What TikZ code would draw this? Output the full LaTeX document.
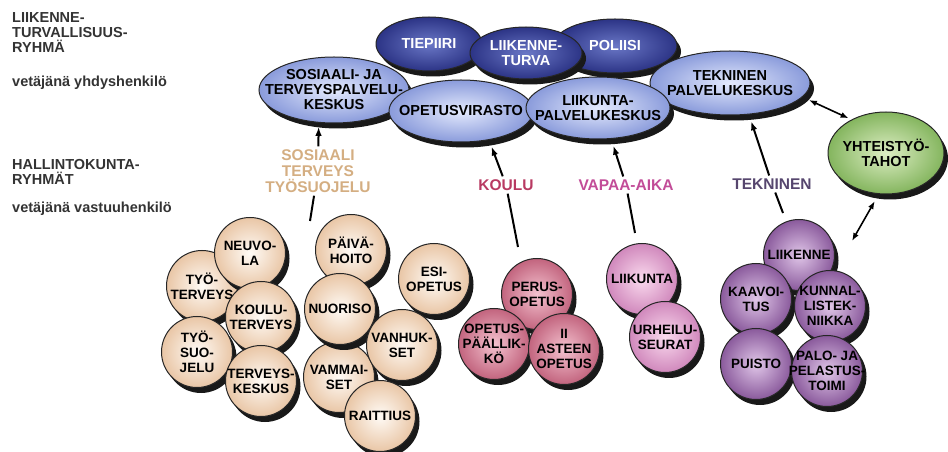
\documentclass[tikz,border=0pt]{standalone}
\usepackage{fontspec}
\setmainfont{Liberation Sans}
\usetikzlibrary{arrows.meta,shapes.geometric}

\definecolor{tummasin}{HTML}{2C3486}
\definecolor{tummasinv}{HTML}{6A77C6}
\definecolor{vaaleasin}{HTML}{8A9BDB}
\definecolor{vaaleasinv}{HTML}{E4EAFD}
\definecolor{vihrea}{HTML}{84B55E}
\definecolor{vihreav}{HTML}{DDEEC4}
\definecolor{beige}{HTML}{E9C6A6}
\definecolor{beigev}{HTML}{FFFBF6}
\definecolor{puna}{HTML}{C2647E}
\definecolor{punav}{HTML}{F4C2CF}
\definecolor{roosa}{HTML}{D088BC}
\definecolor{roosav}{HTML}{FADAEE}
\definecolor{lila}{HTML}{8A5A9C}
\definecolor{lilav}{HTML}{E0C6E8}
\definecolor{harmaa}{HTML}{333333}
\definecolor{ruskea}{HTML}{D4AE82}
\definecolor{koulupuna}{HTML}{B83A62}
\definecolor{vapaaroosa}{HTML}{C24C98}
\definecolor{tekliila}{HTML}{56466E}

\tikzset{
  varjo/.style={preaction={fill=black!90,transform canvas={xshift=4bp,yshift=-5.5bp}}},
  kupla/.style={ellipse,draw=black!85,line width=1bp,varjo},
  pallo/.style={circle,draw=black!85,line width=1bp,minimum size=71bp,varjo},
  teksti/.style={align=center,inner sep=0pt,font=\bfseries\fontsize{14.5bp}{15bp}\selectfont},
  ptxt/.style={align=center,inner sep=0pt,font=\bfseries\fontsize{13.5bp}{15bp}\selectfont},
  otsikko/.style={align=left,inner sep=0pt,text=harmaa,font=\bfseries\fontsize{14.5bp}{15bp}\selectfont},
  luokka/.style={align=center,inner sep=3bp,font=\bfseries\fontsize{15.5bp}{16bp}\selectfont},
  nuoli/.style={line width=2bp,-{Latex[length=9bp,width=6.5bp]}},
  viiva/.style={line width=2bp},
  kaksi/.style={line width=1.6bp,{Latex[length=8bp,width=6bp]}-{Latex[length=8bp,width=6bp]}}
}

\begin{document}
\begin{tikzpicture}[x=1bp,y=-1bp]
\useasboundingbox (0,0) rectangle (948,452);

% vasemman reunan otsikot
\node[otsikko,anchor=north west] (ltr) at (12,12) {LIIKENNE-\\TURVALLISUUS-\\RYHMÄ};
\node[otsikko,anchor=base west] (lveto1) at (12,87) {vetäjänä yhdyshenkilö};
\node[otsikko,anchor=north west] (lhk) at (12,159) {HALLINTOKUNTA-\\RYHMÄT};
\node[otsikko,anchor=base west] (lveto2) at (12,213) {vetäjänä vastuuhenkilö};

% liikenneturvallisuusryhmä
\node[kupla,inner color=tummasinv,outer color=tummasin,minimum width=106bp,minimum height=54bp,
  label={[teksti,text=white]center:TIEPIIRI}] (tiep) at (429,44) {};
\node[kupla,inner color=tummasinv,outer color=tummasin,minimum width=124bp,minimum height=54bp,
  label={[teksti,text=white]center:POLIISI}] (pol) at (615,46) {};
\node[kupla,inner color=tummasinv,outer color=tummasin,minimum width=112bp,minimum height=52bp,
  label={[teksti,text=white]center:LIIKENNE-\\TURVA}] (ltur) at (526,53) {};
\node[kupla,inner color=vaaleasinv,outer color=vaaleasin,minimum width=150bp,minimum height=66bp,
  label={[teksti]center:SOSIAALI- JA\\TERVEYSPALVELU-\\KESKUS}] (sosk) at (334,90) {};
\node[kupla,inner color=vaaleasinv,outer color=vaaleasin,minimum width=160bp,minimum height=64bp,
  label={[teksti]center:TEKNINEN\\PALVELUKESKUS}] (tpk) at (730,83) {};
\node[kupla,inner color=vaaleasinv,outer color=vaaleasin,minimum width=144bp,minimum height=62bp,
  label={[teksti]center:OPETUSVIRASTO}] (opv) at (461,111) {};
\node[kupla,inner color=vaaleasinv,outer color=vaaleasin,minimum width=144bp,minimum height=62bp,
  label={[teksti]center:LIIKUNTA-\\PALVELUKESKUS}] (lpk) at (598,108) {};
\node[kupla,inner color=vihreav,outer color=vihrea,minimum width=116bp,minimum height=82bp,
  label={[teksti]center:YHTEISTYÖ-\\TAHOT}] (yht) at (886,153) {};

% hallintokuntaryhmät
\node[luokka,text=ruskea] (lsos) at (318,171) {SOSIAALI\\TERVEYS\\TYÖSUOJELU};
\node[luokka,text=koulupuna] (lkoul) at (506,185) {KOULU};
\node[luokka,text=vapaaroosa] (lvap) at (626,185) {VAPAA-AIKA};
\node[luokka,text=tekliila] (ltek) at (772,184) {TEKNINEN};

\coordinate (sosloppu) at (310,221);
\coordinate (kouloppu) at (518,247);
\coordinate (vaploppu) at (635,233);
\coordinate (tekloppu) at (783,213);
\coordinate (likloppu) at (852,241);

\draw[nuoli,shorten >=4bp] (lsos) -- (sosk.245);
\draw[nuoli,shorten >=7bp] (lkoul) -- (opv.314);
\draw[nuoli,shorten >=7bp] (lvap) -- (lpk.293);
\draw[nuoli,shorten >=7bp] (ltek) -- (tpk.301);
\draw[viiva] (lsos) -- (sosloppu);
\draw[viiva] (lkoul) -- (kouloppu);
\draw[viiva] (lvap) -- (vaploppu);
\draw[viiva] (ltek) -- (tekloppu);
\draw[kaksi,shorten <=7bp,shorten >=3bp] (tpk.349) -- (yht.136);
\draw[kaksi,shorten <=8bp] (yht.260) -- (likloppu);

% sosiaali ja terveys
\node[pallo,inner color=beigev,outer color=beige,label={[ptxt]center:TYÖ-\\TERVEYS}] (tyoter) at (202,286) {};
\node[pallo,inner color=beigev,outer color=beige,label={[ptxt]center:NEUVO-\\LA}] (neuv) at (250,253) {};
\node[pallo,inner color=beigev,outer color=beige,label={[ptxt]center:KOULU-\\TERVEYS}] (kouter) at (261,317) {};
\node[pallo,inner color=beigev,outer color=beige,label={[ptxt]center:TYÖ-\\SUO-\\JELU}] (tyosuo) at (197,352) {};
\node[pallo,inner color=beigev,outer color=beige,label={[ptxt]center:TERVEYS-\\KESKUS}] (terkes) at (261,381) {};
\node[pallo,inner color=beigev,outer color=beige,label={[ptxt]center:PÄIVÄ-\\HOITO}] (paiv) at (351,250) {};
\node[pallo,inner color=beigev,outer color=beige,label={[ptxt]center:ESI-\\OPETUS}] (esi) at (434,279) {};
\node[pallo,inner color=beigev,outer color=beige,label={[ptxt]center:VAMMAI-\\SET}] (vamm) at (339,377) {};
\node[pallo,inner color=beigev,outer color=beige,label={[ptxt]center:NUORISO}] (nuor) at (340,309) {};
\node[pallo,inner color=beigev,outer color=beige,label={[ptxt]center:VANHUK-\\SET}] (vanh) at (402,345) {};
\node[pallo,inner color=beigev,outer color=beige,label={[ptxt]center:RAITTIUS}] (rait) at (380,416) {};

% koulu
\node[pallo,inner color=punav,outer color=puna,label={[ptxt]center:PERUS-\\OPETUS}] (perus) at (537,294) {};
\node[pallo,inner color=punav,outer color=puna,label={[ptxt]center:OPETUS-\\PÄÄLLIK-\\KÖ}] (paal) at (494,344) {};
\node[pallo,inner color=punav,outer color=puna,label={[ptxt]center:II\\ASTEEN\\OPETUS}] (iiast) at (564,349) {};

% vapaa-aika
\node[pallo,inner color=roosav,outer color=roosa,label={[ptxt]center:LIIKUNTA}] (liik) at (642,279) {};
\node[pallo,inner color=roosav,outer color=roosa,label={[ptxt]center:URHEILU-\\SEURAT}] (urh) at (665,337) {};

% tekninen
\node[pallo,inner color=lilav,outer color=lila,label={[ptxt]center:LIIKENNE}] (likenne) at (799,255) {};
\node[pallo,inner color=lilav,outer color=lila,label={[ptxt]center:KAAVOI-\\TUS}] (kaav) at (756,299) {};
\node[pallo,inner color=lilav,outer color=lila,label={[ptxt]center:KUNNAL-\\LISTEK-\\NIIKKA}] (kunn) at (830,306) {};
\node[pallo,inner color=lilav,outer color=lila,label={[ptxt]center:PUISTO}] (puis) at (756,364) {};
\node[pallo,inner color=lilav,outer color=lila,label={[ptxt]center:PALO- JA\\PELASTUS-\\TOIMI}] (palo) at (827,371) {};
\end{tikzpicture}
\end{document}
